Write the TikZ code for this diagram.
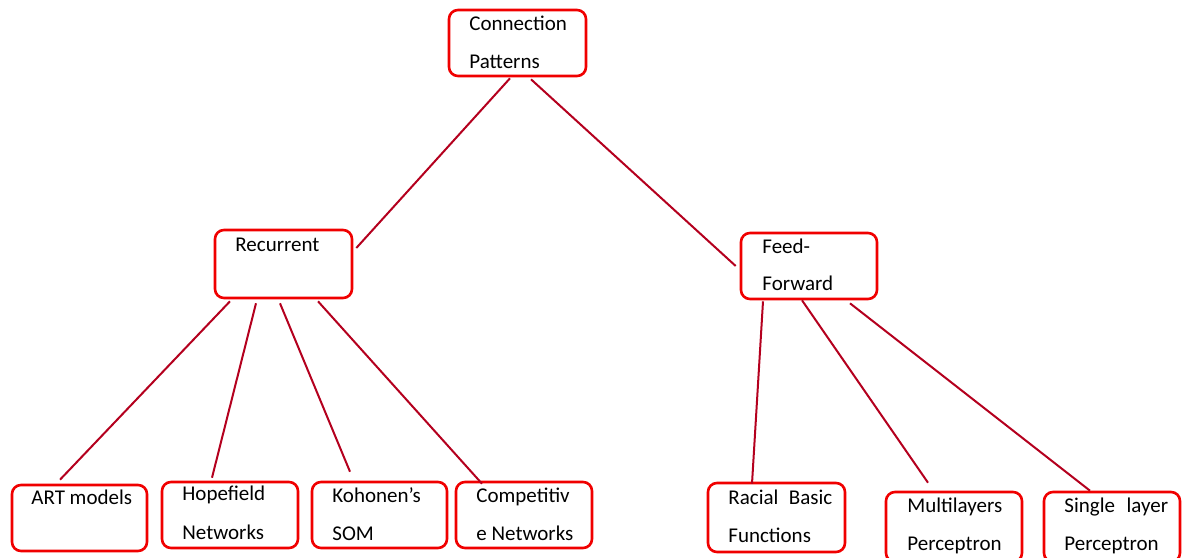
\documentclass[tikz,border=0pt]{standalone}
\usepackage{fontspec}
\setmainfont{Carlito}
\usetikzlibrary{calc}
\definecolor{boxred}{RGB}{240,0,0}
\definecolor{linkred}{RGB}{180,0,30}
\begin{document}
\begin{tikzpicture}[x=0.5pt,y=-0.5pt,
  box/.style={draw=boxred,line width=1.3pt,rounded corners=4.5pt,inner sep=0pt,
    minimum width=#1},
  box/.default=68pt,
  lbl/.style={anchor=base west,inner sep=0pt,font=\fontsize{10.5}{12}\selectfont},
  link/.style={draw=linkred,line width=1pt}]
\useasboundingbox (0,0) rectangle (1182,557);
% boxes
\node[box=68.5pt,minimum height=33pt] (cp)   at (517.5,43) {};
\node[box=68.5pt,minimum height=34pt] (rec)  at (283.5,264) {};
\node[box=68pt,minimum height=33pt]   (ff)   at (809,266) {};
\node[box=67.5pt,minimum height=33pt] (art)  at (79.5,518) {};
\node[box=68pt,minimum height=33pt]   (hop)  at (230,515) {};
\node[box=67.5pt,minimum height=33pt] (koh)  at (379.5,515) {};
\node[box=68pt,minimum height=33pt]   (comp) at (524,515) {};
\node[box=68.5pt,minimum height=34.5pt] (rbf) at (776.5,517.5) {};
\node[box=68pt,minimum height=35pt]   (ml)   at (954,527) {};
\node[box=68pt,minimum height=35pt]   (sl)   at (1112,527) {};
% labels
\node[lbl] (cp1) at (469,30) {Connection};
\node[lbl] (cp2) at (469,68) {Patterns};
\node[lbl] (rec1) at (235,251) {Recurrent};
\node[lbl] (ff1) at (762,253) {Feed-};
\node[lbl] (ff2) at (762,290) {Forward};
\node[lbl] (art1) at (31,504) {ART models};
\node[lbl] (hop1) at (182,500) {Hopefield};
\node[lbl] (hop2) at (182,539) {Networks};
\node[lbl] (koh1) at (332,502) {Kohonen’s};
\node[lbl] (koh2) at (332,540) {SOM};
\node[lbl] (comp1) at (476,502) {Competitiv};
\node[lbl] (comp2) at (476,540) {e Networks};
\node[lbl] (rbf1) at (728,504) {Racial\hspace{0.5em}Basic};
\node[lbl] (rbf2) at (728,542) {Functions};
\node[lbl] (ml1) at (907,512) {Multilayers};
\node[lbl] (ml2) at (907,550) {Perceptron};
\node[lbl] (sl1) at (1064,512) {Single\hspace{0.55em}layer};
\node[lbl] (sl2) at (1064,550) {Perceptron};
% connectors
\draw[link] ($(cp.south)+(-7.5,1)$) -- ($(rec.east)+(3,-16)$);
\draw[link] ($(cp.south)+(13.5,2)$) -- ($(ff.west)+(-4,0)$);
\draw[link] ($(rec.south)+(-53.5,2)$) -- ($(art.north)+(-19.5,-4)$);
\draw[link] ($(rec.south)+(-27.5,4)$) -- ($(hop.north)+(-18,-3)$);
\draw[link] ($(rec.south)+(-3.5,4)$) -- ($(koh.north)+(-29.5,-9)$);
\draw[link] ($(rec.south)+(34.5,2)$) -- ($(comp.north)+(-42,3)$);
\draw[link] ($(ff.south)+(-46,1)$) -- ($(rbf.north)+(-24.5,2)$);
\draw[link] ($(ff.south)+(-7,0)$) -- ($(ml.north)+(-26,-8)$);
\draw[link] ($(ff.south)+(41,3)$) -- ($(sl.north)+(-22,0)$);
\end{tikzpicture}
\end{document}
